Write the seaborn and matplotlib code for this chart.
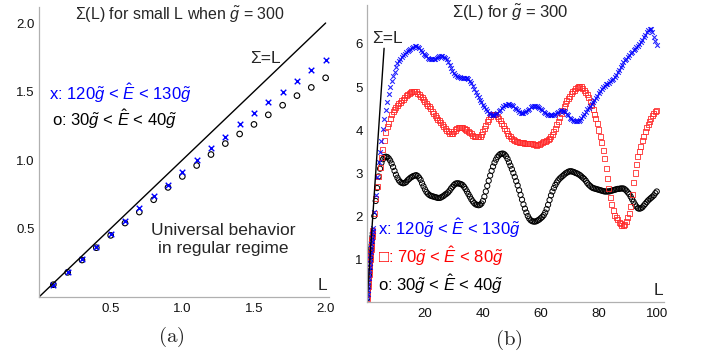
import numpy as np
import pandas as pd
import matplotlib
matplotlib.use("Agg")
import matplotlib.pyplot as plt
import seaborn as sns
from matplotlib.ticker import MultipleLocator

# ---------------- data ----------------
L_small = [0.1, 0.2, 0.3, 0.4, 0.5, 0.6, 0.7, 0.8, 0.9, 1.0,
           1.1, 1.2, 1.3, 1.4, 1.5, 1.6, 1.7, 1.8, 1.9, 2.0]
blue_small = [0.09, 0.185, 0.28, 0.365, 0.46, 0.555, 0.65, 0.74, 0.82, 0.91,
              1.00, 1.09, 1.17, 1.26, 1.34, 1.42, 1.50, 1.58, 1.66, 1.73]
black_small = [0.09, 0.18, 0.27, 0.36, 0.45, 0.54, 0.62, 0.71, 0.80, 0.88,
               0.96, 1.04, 1.12, 1.19, 1.26, 1.33, 1.40, 1.47, 1.53, 1.60]
red_small = [0.09, 0.18, 0.28, 0.36, 0.455, 0.55, 0.64, 0.73, 0.81, 0.90,
             0.98, 1.06, 1.15, 1.23, 1.30, 1.38, 1.45, 1.53, 1.60, 1.67]

# L = 2.5 ... 100 in steps of 0.5
blue_big = [
    2.10, 2.50, 2.90, 3.25, 3.50, 3.75, 4.02, 4.25, 4.47, 4.66,
    4.84, 5.00, 5.15, 5.26, 5.36, 5.46, 5.55, 5.61, 5.66, 5.70,
    5.74, 5.77, 5.81, 5.84, 5.87, 5.89, 5.91, 5.93, 5.95, 5.96,
    5.94, 5.90, 5.86, 5.81, 5.77, 5.74, 5.71, 5.68, 5.66, 5.64,
    5.64, 5.65, 5.66, 5.68, 5.70, 5.72, 5.73, 5.72, 5.70, 5.68,
    5.64, 5.59, 5.52, 5.45, 5.38, 5.32, 5.28, 5.26, 5.24, 5.23,
    5.22, 5.22, 5.22, 5.22, 5.21, 5.19, 5.15, 5.10, 5.03, 4.96,
    4.89, 4.82, 4.76, 4.70, 4.64, 4.58, 4.53, 4.48, 4.44, 4.40,
    4.38, 4.36, 4.35, 4.36, 4.38, 4.40, 4.44, 4.47, 4.51, 4.55,
    4.57, 4.59, 4.60, 4.60, 4.59, 4.57, 4.55, 4.52, 4.49, 4.46,
    4.43, 4.40, 4.39, 4.39, 4.41, 4.44, 4.47, 4.50, 4.53, 4.55,
    4.56, 4.56, 4.55, 4.54, 4.52, 4.50, 4.47, 4.43, 4.40, 4.37,
    4.36, 4.35, 4.35, 4.35, 4.36, 4.38, 4.40, 4.43, 4.45, 4.46,
    4.45, 4.44, 4.41, 4.38, 4.34, 4.29, 4.26, 4.23, 4.21, 4.20,
    4.20, 4.21, 4.24, 4.28, 4.33, 4.38, 4.43, 4.48, 4.52, 4.56,
    4.60, 4.64, 4.69, 4.74, 4.80, 4.86, 4.91, 4.96, 5.00, 5.03,
    5.06, 5.08, 5.10, 5.13, 5.16, 5.19, 5.23, 5.28, 5.34, 5.40,
    5.46, 5.52, 5.57, 5.62, 5.66, 5.70, 5.74, 5.78, 5.82, 5.86,
    5.89, 5.92, 5.96, 6.00, 6.05, 6.10, 6.16, 6.22, 6.27, 6.32,
    6.35, 6.35, 6.28, 6.17, 6.07, 5.97]
red_big = [
    2.05, 2.40, 2.68, 2.92, 3.12, 3.35, 3.55, 3.75, 3.95, 4.08,
    4.15, 4.26, 4.36, 4.42, 4.47, 4.52, 4.56, 4.61, 4.65, 4.69,
    4.72, 4.76, 4.80, 4.83, 4.86, 4.88, 4.90, 4.90, 4.90, 4.89,
    4.86, 4.83, 4.79, 4.75, 4.71, 4.66, 4.62, 4.58, 4.54, 4.49,
    4.44, 4.39, 4.34, 4.29, 4.25, 4.21, 4.17, 4.12, 4.07, 4.03,
    3.99, 3.96, 3.93, 3.92, 3.93, 3.96, 4.00, 4.03, 4.05, 4.05,
    4.05, 4.05, 4.04, 4.02, 4.00, 3.97, 3.94, 3.91, 3.88, 3.86,
    3.85, 3.84, 3.84, 3.86, 3.90, 3.96, 4.03, 4.11, 4.19, 4.25,
    4.31, 4.35, 4.37, 4.37, 4.35, 4.32, 4.27, 4.21, 4.15, 4.10,
    4.04, 3.98, 3.93, 3.88, 3.84, 3.80, 3.77, 3.75, 3.74, 3.73,
    3.72, 3.71, 3.70, 3.70, 3.69, 3.69, 3.69, 3.69, 3.68, 3.68,
    3.67, 3.66, 3.65, 3.66, 3.67, 3.69, 3.71, 3.73, 3.74, 3.76,
    3.78, 3.81, 3.85, 3.90, 3.96, 4.03, 4.12, 4.20, 4.29, 4.38,
    4.46, 4.54, 4.62, 4.68, 4.74, 4.79, 4.84, 4.89, 4.93, 4.96,
    4.98, 5.00, 5.01, 5.00, 4.97, 4.93, 4.88, 4.82, 4.75, 4.66,
    4.57, 4.47, 4.37, 4.26, 4.14, 4.00, 3.86, 3.70, 3.52, 3.33,
    3.10, 2.88, 2.64, 2.44, 2.27, 2.12, 2.02, 1.96, 1.91, 1.86,
    1.82, 1.79, 1.77, 1.80, 1.87, 1.96, 2.05, 2.22, 2.50, 2.78,
    3.00, 3.20, 3.38, 3.50, 3.62, 3.75, 3.86, 3.96, 4.05, 4.13,
    4.20, 4.27, 4.33, 4.39, 4.43, 4.46]
black_big = [
    2.00, 2.35, 2.65, 2.92, 3.10, 3.24, 3.32, 3.37, 3.38, 3.37,
    3.34, 3.29, 3.22, 3.14, 3.05, 2.96, 2.89, 2.83, 2.79, 2.77,
    2.76, 2.77, 2.79, 2.83, 2.86, 2.89, 2.91, 2.93, 2.94, 2.95,
    2.93, 2.89, 2.84, 2.76, 2.69, 2.62, 2.56, 2.52, 2.49, 2.47,
    2.46, 2.45, 2.44, 2.43, 2.42, 2.42, 2.43, 2.45, 2.47, 2.50,
    2.52, 2.55, 2.59, 2.64, 2.68, 2.72, 2.75, 2.76, 2.76, 2.75,
    2.74, 2.72, 2.68, 2.63, 2.57, 2.51, 2.45, 2.39, 2.34, 2.30,
    2.27, 2.26, 2.25, 2.26, 2.29, 2.35, 2.45, 2.57, 2.70, 2.82,
    2.94, 3.05, 3.15, 3.24, 3.31, 3.37, 3.41, 3.44, 3.45, 3.45,
    3.43, 3.39, 3.33, 3.25, 3.17, 3.09, 3.00, 2.91, 2.81, 2.71,
    2.60, 2.49, 2.38, 2.27, 2.17, 2.08, 2.00, 1.94, 1.90, 1.88,
    1.87, 1.87, 1.88, 1.90, 1.92, 1.95, 1.98, 2.02, 2.08, 2.16,
    2.26, 2.37, 2.48, 2.57, 2.65, 2.72, 2.78, 2.83, 2.87, 2.90,
    2.93, 2.96, 2.99, 3.01, 3.03, 3.04, 3.04, 3.03, 3.02, 3.00,
    2.99, 2.97, 2.95, 2.92, 2.89, 2.86, 2.82, 2.77, 2.73, 2.70,
    2.67, 2.65, 2.64, 2.63, 2.62, 2.61, 2.60, 2.59, 2.58, 2.57,
    2.57, 2.57, 2.57, 2.58, 2.59, 2.60, 2.61, 2.62, 2.63, 2.63,
    2.64, 2.64, 2.64, 2.62, 2.59, 2.55, 2.51, 2.45, 2.39, 2.33,
    2.27, 2.22, 2.18, 2.17, 2.18, 2.20, 2.24, 2.28, 2.32, 2.36,
    2.39, 2.42, 2.45, 2.48, 2.53, 2.57]

L_big = list(np.arange(2.5, 100.001, 0.5))
assert len(blue_big) == len(L_big) == len(red_big) == len(black_big)

left_xticks = [0.5, 1.0, 1.5, 2.0]
left_xticklabels = ["0.5", "1.0", "1.5", "2.0"]
right_xticks = [20, 40, 60, 80, 100]
right_yticks = [1, 2, 3, 4, 5, 6]
diag_left = [0.0, 2.0]
diag_right = [0.0, 5.9]

# ---------------- style ----------------
sns.set_style("white")
plt.rcParams['font.family'] = ['Liberation Sans', 'DejaVu Sans']
plt.rcParams['mathtext.fontset'] = 'custom'
plt.rcParams['mathtext.rm'] = 'Liberation Sans'
plt.rcParams['mathtext.it'] = 'Liberation Sans:italic'
plt.rcParams['mathtext.bf'] = 'Liberation Sans:bold'

W, H = 701, 358
fig = plt.figure(figsize=(W / 100, H / 100), dpi=100)
axL = fig.add_axes([39 / W, 1 - 297 / H, (328.5 - 39) / W, (297 - 6.6) / H])
axR = fig.add_axes([367 / W, 1 - 302 / H, 297 / W, 296.7 / H])

BLUE = "#0000ff"
RED = "#ff2a2a"

def style_axes(ax):
    for s in ["top", "right"]:
        ax.spines[s].set_visible(False)
    for s in ["left", "bottom"]:
        ax.spines[s].set_color("#b0b0b0")
        ax.spines[s].set_linewidth(0.9)
    ax.tick_params(which="both", direction="in", color="#555555", width=0.8,
                   labelsize=9.5, labelcolor="#111111")
    ax.tick_params(which="major", length=3.5)
    ax.tick_params(which="minor", length=2)
    ax.tick_params(axis="y", pad=3)
    ax.tick_params(axis="x", pad=4)
    ax.set_xlabel("")
    ax.set_ylabel("")

# ---------------- left panel ----------------
dfL = pd.DataFrame({"L": L_small, "blue": blue_small, "black": black_small})
sns.lineplot(x=diag_left, y=diag_left, ax=axL, color="black", linewidth=1.0)
sns.scatterplot(data=dfL, x="L", y="black", ax=axL, marker="o", s=16,
                linewidth=0.8)
axL.collections[-1].set_facecolor("none")
axL.collections[-1].set_edgecolor("black")
sns.scatterplot(data=dfL, x="L", y="blue", ax=axL, marker="x", s=16,
                linewidth=1.0, color=BLUE)
axL.set_xlim(0, 2.02)
axL.set_ylim(0, 2.12)
axL.set_xticks(left_xticks, left_xticklabels)
axL.set_yticks(left_xticks, left_xticklabels)
axL.xaxis.set_minor_locator(MultipleLocator(0.1))
axL.yaxis.set_minor_locator(MultipleLocator(0.1))
style_axes(axL)

# ---------------- right panel ----------------
L_all = L_small + L_big
dfR = pd.DataFrame({"L": L_all,
                    "blue": blue_small + blue_big,
                    "red": red_small + red_big,
                    "black": black_small + black_big})
sns.lineplot(x=diag_right, y=diag_right, ax=axR, color="black", linewidth=1.0)
sns.scatterplot(data=dfR, x="L", y="black", ax=axR, marker="o", s=14,
                linewidth=0.7)
axR.collections[-1].set_facecolor("none")
axR.collections[-1].set_edgecolor("black")
sns.scatterplot(data=dfR, x="L", y="red", ax=axR, marker="s", s=13,
                linewidth=0.7)
axR.collections[-1].set_facecolor("none")
axR.collections[-1].set_edgecolor(RED)
axR.collections[-1].set_alpha(0.85)
sns.scatterplot(data=dfR, x="L", y="blue", ax=axR, marker="x", s=11,
                linewidth=0.8, color=BLUE, alpha=0.85)
axR.set_xlim(0, 102.5)
axR.set_ylim(0, 6.9)
axR.set_xticks(right_xticks, [str(v) for v in right_xticks])
axR.set_yticks(right_yticks, [str(v) for v in right_yticks])
axR.xaxis.set_minor_locator(MultipleLocator(5))
axR.yaxis.set_minor_locator(MultipleLocator(0.2))
style_axes(axR)

# ---------------- texts ----------------
def ftext(x, y, s, **kw):
    kw.setdefault("fontsize", 12.5)
    fig.text(x / W, 1 - y / H, s, **kw)

ftext(180, 20, r"Σ(L) for small L when $\tilde{g}$ = 300", ha="center",
      va="baseline", fontsize=11.5)
ftext(250, 63, "Σ=L", ha="left", va="baseline")
ftext(49, 100, r"x: 120$\tilde{g}$ < $\hat{E}$ < 130$\tilde{g}$", ha="left",
      va="baseline", color=BLUE, fontsize=12)
ftext(52, 126, r"o: 30$\tilde{g}$ < $\hat{E}$ < 40$\tilde{g}$", ha="left",
      va="baseline", color="black", fontsize=12)
ftext(223, 235, "Universal behavior", ha="center", va="baseline")
ftext(223, 253, "in regular regime", ha="center", va="baseline")
ftext(322, 290, "L", ha="center", va="baseline")
ftext(171, 337, r"$\mathrm{(a)}$", ha="center", va="center", fontsize=15,
      math_fontfamily="cm")

ftext(510, 18, r"Σ(L) for $\tilde{g}$ = 300", ha="center", va="baseline",
      fontsize=12)
ftext(372, 43, "Σ=L", ha="left", va="baseline")
ftext(378, 235, r"x: 120$\tilde{g}$ < $\hat{E}$ < 130$\tilde{g}$", ha="left",
      va="baseline", color=BLUE, fontsize=12)
ftext(378, 263, r"□: 70$\tilde{g}$ < $\hat{E}$ < 80$\tilde{g}$", ha="left",
      va="baseline", color="#ff0000", fontsize=12)
ftext(378, 291, r"o: 30$\tilde{g}$ < $\hat{E}$ < 40$\tilde{g}$", ha="left",
      va="baseline", color="black", fontsize=12)
ftext(658, 295, "L", ha="center", va="baseline")
ftext(509, 340, r"$\mathrm{(b)}$", ha="center", va="center", fontsize=15,
      math_fontfamily="cm")

fig.savefig("out.png", dpi=100)
